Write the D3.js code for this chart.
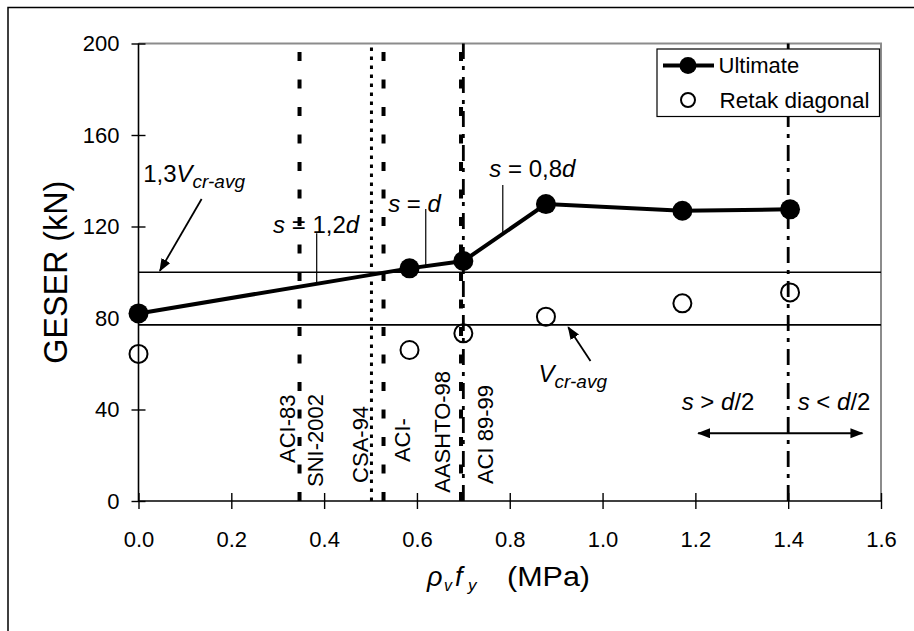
<!DOCTYPE html>
<html>
<head>
<meta charset="utf-8">
<script src="https://cdn.jsdelivr.net/npm/d3@7"></script>
<style>
  body { margin: 0; background: #fff; }
  svg text { font-family: 'Liberation Sans', Arial, sans-serif; fill: #000; }
</style>
</head>
<body>
<svg id="chart" width="914" height="631"></svg>
<script>
// data
const rhoFy = [0, 0.584, 0.70, 0.878, 1.172, 1.404];
const ultimate = [82, 101.7, 104.9, 129.8, 126.9, 127.5];
const retak = [64.3, 66, 73.3, 80.6, 86.4, 91.2];
const xTicks = [0, 0.2, 0.4, 0.6, 0.8, 1.0, 1.2, 1.4, 1.6];
const yTicks = [0, 40, 80, 120, 160, 200];
const vcrAvg = 77;
const vcr13 = 100;
// code limits (vertical lines)
const codeX = [0.347, 0.502, 0.528, 0.695, 0.70, 1.40];
const codeStyle = ["dash", "dot", "dash", "dash", "dashdot", "dashdot"];
const codeNames = ["ACI-83", "SNI-2002", "CSA-94", "ACI-", "AASHTO-98", "ACI 89-99"];
const codeNameX = [0.337, 0.398, 0.4945, 0.585, 0.672, 0.763];
const codeNameY = [16.6, 6.1, 7.9, 17.0, 3.6, 7.4];

const margin = {left: 138.5, top: 43.5, right: 881, bottom: 501};
const svg = d3.select("#chart");

const x = d3.scaleLinear().domain([0, 1.6]).range([margin.left, margin.right]);
const y = d3.scaleLinear().domain([0, 200]).range([margin.bottom, margin.top]);

const styles = {
  dash: {w: 4, d: "9,18.5"},
  dot: {w: 3, d: "3.5,5.5"},
  dashdot: {w: 2.8, d: "16,7,4,7"}
};

// arrow heads
const defs = svg.append("defs");
defs.append("marker")
  .attr("id", "head")
  .attr("markerUnits", "userSpaceOnUse")
  .attr("markerWidth", 14).attr("markerHeight", 12)
  .attr("refX", 12).attr("refY", 5)
  .attr("orient", "auto-start-reverse")
  .append("path").attr("d", "M0,0L13,5L0,10Z").attr("fill", "#000");

// outer frame
svg.append("rect")
  .attr("x", 8).attr("y", 7.5).attr("width", 1000).attr("height", 1000)
  .attr("fill", "none").attr("stroke", "#000").attr("stroke-width", 1.5);

// plot frame top / right (grey)
svg.append("path")
  .attr("d", `M${x(0)},${y(200)}H${x(1.6)}V${y(0)}`)
  .attr("fill", "none").attr("stroke", "#8c8c8c").attr("stroke-width", 2);

// horizontal reference lines
svg.selectAll(".href").data([vcr13, vcrAvg]).enter().append("line")
  .attr("x1", x(0)).attr("x2", x(1.6))
  .attr("y1", d => y(d)).attr("y2", d => y(d))
  .attr("stroke", "#000").attr("stroke-width", 1.6);

// vertical code lines
svg.selectAll(".vline").data(codeX).enter().append("line")
  .attr("x1", d => x(d)).attr("x2", d => x(d))
  .attr("y1", y(0)).attr("y2", y(200))
  .attr("stroke", "#000")
  .attr("stroke-width", (d, i) => styles[codeStyle[i]].w)
  .attr("stroke-dasharray", (d, i) => styles[codeStyle[i]].d);

// code labels, rotated
svg.selectAll(".clab").data(codeNames).enter().append("text")
  .attr("transform", (d, i) => `translate(${x(codeNameX[i])},${y(codeNameY[i])}) rotate(-90)`)
  .attr("font-size", 22)
  .text(d => d);

// axes
const yAxis = svg.append("g")
  .attr("transform", `translate(${x(0)},0)`)
  .call(d3.axisLeft(y).tickValues(yTicks).tickSize(7).tickPadding(12).tickFormat(d3.format("d")));
yAxis.selectAll(".tick line").attr("x1", 7).attr("x2", -7).attr("stroke-width", 1.4);
yAxis.select(".domain").attr("stroke-width", 1.6).attr("d", `M0,${y(0)}V${y(200)}`);
yAxis.selectAll(".tick text").attr("font-size", 22).attr("font-family", "'Liberation Sans', Arial, sans-serif").attr("x", -19);

const xAxis = svg.append("g")
  .attr("transform", `translate(0,${y(0)})`)
  .call(d3.axisBottom(x).tickValues(xTicks).tickSize(8).tickPadding(22).tickFormat(d3.format(".1f")));
xAxis.selectAll(".tick line").attr("y1", -8).attr("y2", 8).attr("stroke-width", 1.4);
xAxis.select(".domain").attr("stroke-width", 1.6).attr("d", `M${x(0)},0H${x(1.6)}`);
xAxis.selectAll(".tick text").attr("font-size", 22).attr("font-family", "'Liberation Sans', Arial, sans-serif");

// leader lines for spacing notes
const leaderX = [0.384, 0.619, 0.785];
const leaderTop = [117.0, 127.6, 138.1];
const leaderBot = [95, 102.7, 116.8];
svg.selectAll(".leader").data(leaderX).enter().append("line")
  .attr("x1", d => x(d)).attr("x2", d => x(d))
  .attr("y1", (d, i) => y(leaderTop[i])).attr("y2", (d, i) => y(leaderBot[i]))
  .attr("stroke", "#000").attr("stroke-width", 1.2);

// ultimate series
const pts = rhoFy.map((d, i) => [d, ultimate[i]]);
svg.append("path")
  .attr("d", d3.line().x(d => x(d[0])).y(d => y(d[1]))(pts))
  .attr("fill", "none").attr("stroke", "#000").attr("stroke-width", 4);
svg.selectAll(".ult").data(pts).enter().append("circle")
  .attr("cx", d => x(d[0])).attr("cy", d => y(d[1])).attr("r", 10).attr("fill", "#000");

// retak diagonal series
svg.selectAll(".ret").data(rhoFy).enter().append("circle")
  .attr("cx", d => x(d)).attr("cy", (d, i) => y(retak[i])).attr("r", 9)
  .attr("fill", "none").attr("stroke", "#000").attr("stroke-width", 2);

// legend
const lg = svg.append("g").attr("transform", `translate(${margin.right - 224},${margin.top + 5.5})`);
lg.append("rect").attr("width", 222.5).attr("height", 67.5)
  .attr("fill", "#fff").attr("stroke", "#000").attr("stroke-width", 1.2);
lg.append("line").attr("x1", 6).attr("x2", 57).attr("y1", 16.5).attr("y2", 16.5)
  .attr("stroke", "#000").attr("stroke-width", 4);
lg.append("circle").attr("cx", 31).attr("cy", 16.5).attr("r", 8.5).attr("fill", "#000");
lg.append("circle").attr("cx", 31).attr("cy", 51).attr("r", 7)
  .attr("fill", "none").attr("stroke", "#000").attr("stroke-width", 2);
lg.append("text").attr("x", 61.5).attr("y", 24).attr("font-size", 22).text("Ultimate");
lg.append("text").attr("x", 62.5).attr("y", 58.5).attr("font-size", 22.5).text("Retak diagonal");

// annotation arrows
const arrows = [
  [[0.136, 132.0], [0.046, 100.6]],
  [[0.974, 61.2], [0.926, 76.0]]
];
svg.selectAll(".arr").data(arrows).enter().append("line")
  .attr("x1", d => x(d[0][0])).attr("y1", d => y(d[0][1]))
  .attr("x2", d => x(d[1][0])).attr("y2", d => y(d[1][1]))
  .attr("stroke", "#000").attr("stroke-width", 1.8)
  .attr("marker-end", "url(#head)");

svg.append("line")
  .attr("x1", x(1.206)).attr("x2", x(1.560))
  .attr("y1", y(29.6)).attr("y2", y(29.6))
  .attr("stroke", "#000").attr("stroke-width", 2)
  .attr("marker-start", "url(#head)").attr("marker-end", "url(#head)");

// annotation text: [x, y, parts]; parts = [text, italic, sub]
const notes = [
  [0.010, 139.6, [["1,3", 0, 0], ["V", 1, 0], ["cr-avg", 1, 1]]],
  [0.862, 52.2, [["V", 1, 0], ["cr-avg", 1, 1]]],
  [0.290, 117.0, [["s", 1, 0], [" = 1,2", 0, 0], ["d", 1, 0]]],
  [0.538, 126.5, [["s", 1, 0], [" = ", 0, 0], ["d", 1, 0]]],
  [0.756, 141.8, [["s", 1, 0], [" = 0,8", 0, 0], ["d", 1, 0]]],
  [1.1705, 39.8, [["s", 1, 0], [" > ", 0, 0], ["d", 1, 0], ["/2", 0, 0]]],
  [1.4205, 39.8, [["s", 1, 0], [" < ", 0, 0], ["d", 1, 0], ["/2", 0, 0]]]
];
notes.forEach(n => {
  const t = svg.append("text").attr("x", x(n[0])).attr("y", y(n[1])).attr("font-size", 24);
  let sub = 0;
  n[2].forEach(p => {
    const s = t.append("tspan").text(p[0]);
    if (p[1]) s.attr("font-style", "italic");
    if (p[2] !== sub) { s.attr("dy", p[2] ? 6 : -6); sub = p[2]; }
    if (p[2]) s.attr("font-size", 19);
  });
});

// axis titles
svg.append("text")
  .attr("transform", `translate(66.5,${(margin.top + margin.bottom) / 2}) rotate(-90)`)
  .attr("text-anchor", "middle").attr("font-size", 34)
  .attr("textLength", 183).attr("lengthAdjust", "spacingAndGlyphs")
  .text("GESER (kN)");

const xt = svg.append("text").attr("y", 586).attr("font-size", 25);
xt.append("tspan").attr("x", 427).attr("font-style", "italic").attr("font-size", 27).text("ρ");
xt.append("tspan").attr("x", 444).attr("font-style", "italic").attr("font-size", 16).attr("dy", 5).text("v");
xt.append("tspan").attr("x", 455).attr("font-style", "italic").attr("font-size", 27).attr("dy", -5).text("f");
xt.append("tspan").attr("x", 468).attr("font-style", "italic").attr("font-size", 17).attr("dy", 5).text("y");
xt.append("tspan").attr("x", 507).attr("dy", -5).attr("font-size", 27)
  .attr("textLength", 83).attr("lengthAdjust", "spacingAndGlyphs").text("(MPa)");
</script>
</body>
</html>
